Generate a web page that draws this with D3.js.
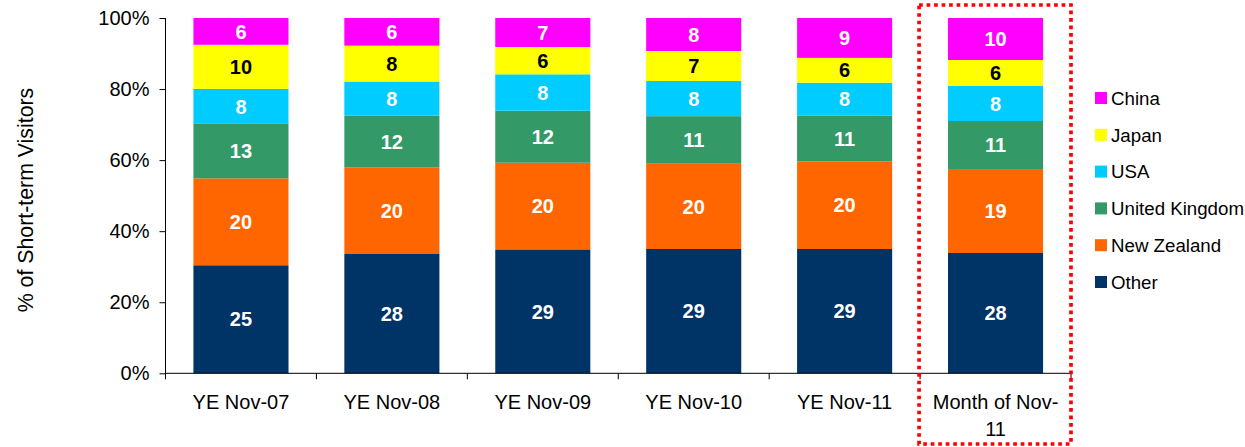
<!DOCTYPE html>
<html>
<head>
<meta charset="utf-8">
<script src="https://cdn.jsdelivr.net/npm/d3@7"></script>
<style>
  body { margin: 0; background: #fff; }
  text { font-family: "Liberation Sans", Arial, sans-serif; }
</style>
</head>
<body>
<div id="chart"></div>
<script>
const categories = ["YE Nov-07", "YE Nov-08", "YE Nov-09", "YE Nov-10", "YE Nov-11", "Month of Nov-11"];
const seriesNames = ["Other", "New Zealand", "United Kingdom", "USA", "Japan", "China"];

// short-term visitors by source (labels show rounded values)
const other = [25.0, 27.6, 28.6, 29.0, 29.0, 27.8];
const newZealand = [20.1, 20.0, 20.0, 19.9, 20.4, 19.4];
const unitedKingdom = [12.6, 12.0, 12.0, 11.1, 10.7, 11.1];
const usa = [8.1, 7.9, 8.4, 8.2, 7.7, 8.1];
const japan = [10.2, 8.3, 6.3, 7.0, 5.8, 6.0];
const china = [6.2, 6.4, 6.7, 7.7, 9.3, 9.7];

const yTicks = [0, 0.2, 0.4, 0.6, 0.8, 1];

const colors = {
  "Other": "#003366",
  "New Zealand": "#FF6600",
  "United Kingdom": "#339966",
  "USA": "#00CCFF",
  "Japan": "#FFFF00",
  "China": "#FF00FF"
};

let width = 1245,
  height = 447,
  plot = {"left": 165.5, "right": 1071, "top": 18, "bottom": 373.3};

let table = categories.map((c, i) => ({
  "category": c,
  "Other": other[i],
  "New Zealand": newZealand[i],
  "United Kingdom": unitedKingdom[i],
  "USA": usa[i],
  "Japan": japan[i],
  "China": china[i]
}));

let stacked = d3.stack()
  .keys(seriesNames)
  .offset(d3.stackOffsetExpand)(table);

let x = d3.scaleBand()
  .domain(categories)
  .range([plot.left, plot.right])
  .paddingInner(0.37)
  .paddingOuter(0.185);

let y = d3.scaleLinear()
  .domain([0, 1])
  .range([plot.bottom, plot.top]);

const svg = d3.select("#chart")
  .append("svg")
  .attr("width", width)
  .attr("height", height);

// bars
const layer = svg.selectAll("g.layer")
  .data(stacked)
  .enter()
  .append("g")
  .attr("class", "layer")
  .style("fill", (s) => colors[s.key]);

layer.selectAll("rect")
  .data((s) => s)
  .enter()
  .append("rect")
  .attr("x", (d) => x(d.data.category))
  .attr("width", x.bandwidth())
  .attr("y", (d) => y(d[1]))
  .attr("height", (d) => y(d[0]) - y(d[1]));

// value labels
stacked.forEach(function(s) {
  svg.append("g")
    .selectAll("text")
    .data(s)
    .enter()
    .append("text")
    .text((d) => Math.round(d.data[s.key]))
    .attr("x", (d) => x(d.data.category) + x.bandwidth() / 2)
    .attr("y", (d) => (y(d[0]) + y(d[1])) / 2)
    .attr("dy", "0.36em")
    .attr("text-anchor", "middle")
    .style("font-size", "20px")
    .style("font-weight", "bold")
    .style("fill", s.key == "Japan" ? "#000" : "#fff");
});

// y axis
const yAxis = d3.axisLeft(y)
  .tickValues(yTicks)
  .tickSize(6)
  .tickPadding(10)
  .tickFormat(d3.format(".0%"));

svg.append("g")
  .attr("transform", "translate(" + plot.left + ",0)")
  .call(yAxis)
  .call((g) => g.select(".domain").attr("d", "M0," + plot.top + "V" + (plot.bottom + 6)))
  .call((g) => g.selectAll("text").style("font-size", "20px").style("fill", "#000"))
  .call((g) => g.selectAll("line, path").style("stroke", "#000"));

// x axis line and ticks at band edges
svg.append("line")
  .attr("x1", plot.left)
  .attr("x2", plot.right)
  .attr("y1", plot.bottom)
  .attr("y2", plot.bottom)
  .style("stroke", "#000");

svg.append("g")
  .selectAll("line")
  .data(categories)
  .enter()
  .append("line")
  .attr("x1", (d) => x(d) + x.bandwidth() + x.step() * x.paddingInner() / 2)
  .attr("x2", (d) => x(d) + x.bandwidth() + x.step() * x.paddingInner() / 2)
  .attr("y1", plot.bottom)
  .attr("y2", plot.bottom + 6)
  .style("stroke", "#000");

// category labels, long ones wrap after the hyphen
const catLabel = svg.append("g")
  .selectAll("text")
  .data(categories)
  .enter()
  .append("text")
  .attr("text-anchor", "middle")
  .attr("y", plot.bottom + 36)
  .style("font-size", "20px")
  .style("fill", "#000");

catLabel.each(function(d) {
  let lines = d.length > 12 ? [d.slice(0, d.lastIndexOf("-") + 1), d.slice(d.lastIndexOf("-") + 1)] : [d];
  let t = d3.select(this);
  lines.forEach(function(l, i) {
    t.append("tspan")
      .text(l)
      .attr("x", x(d) + x.bandwidth() / 2)
      .attr("dy", i == 0 ? 0 : 26.5);
  });
});

// highlight box round the last category
let last = categories[categories.length - 1];
svg.append("rect")
  .attr("x", x(last) - x.step() * x.paddingInner() / 2 - 1)
  .attr("y", 5)
  .attr("width", plot.right - (x(last) - x.step() * x.paddingInner() / 2 - 1))
  .attr("height", 439)
  .style("fill", "none")
  .style("stroke", "#FF0000")
  .style("stroke-width", 3.7)
  .style("stroke-dasharray", "3.7,3.8");

// y title
svg.append("text")
  .text("% of Short-term Visitors")
  .attr("transform", "translate(33,200) rotate(-90)")
  .attr("text-anchor", "middle")
  .style("font-size", "21.3px")
  .style("fill", "#000");

// legend
const legend = svg.append("g")
  .attr("id", "legend");

const legendItem = legend.selectAll("g")
  .data(seriesNames.slice().reverse())
  .enter()
  .append("g")
  .attr("transform", (d, i) => "translate(1095," + (98 + i * 36.8) + ")");

legendItem.append("rect")
  .attr("x", 0)
  .attr("y", -6)
  .attr("width", 12)
  .attr("height", 12)
  .style("fill", (d) => colors[d]);

legendItem.append("text")
  .text((d) => d)
  .attr("x", 16)
  .attr("dy", "0.36em")
  .style("font-size", "18.7px")
  .style("fill", "#000");
</script>
</body>
</html>
